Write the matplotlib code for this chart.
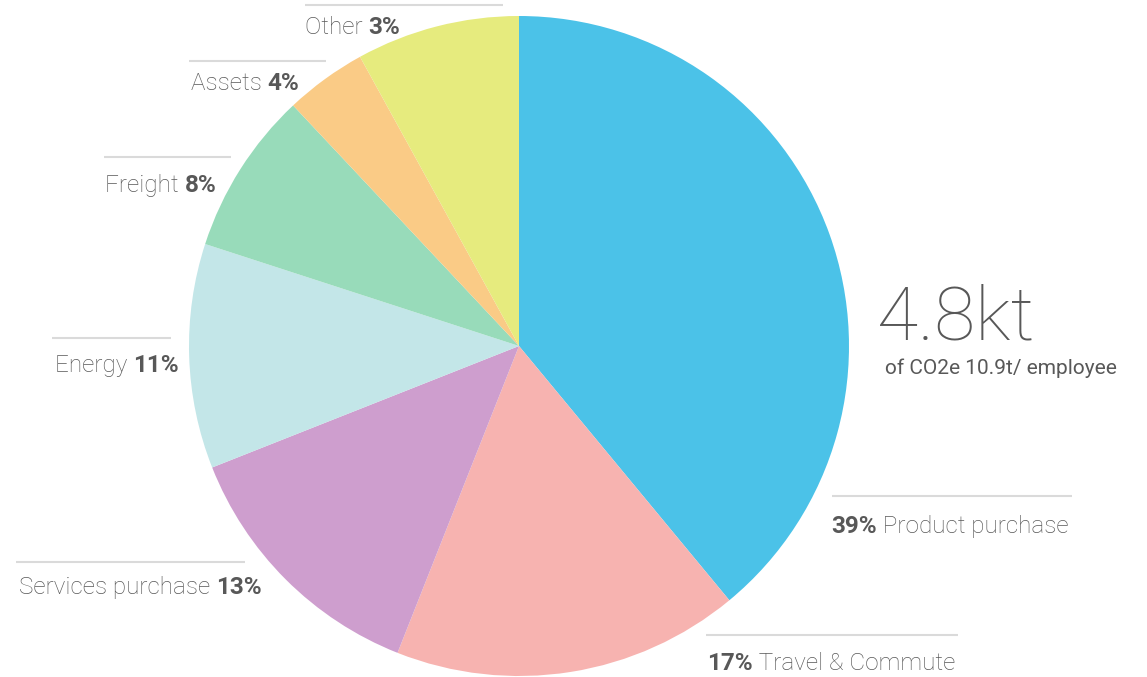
import matplotlib
matplotlib.use("Agg")
import matplotlib.pyplot as plt

# Emissions breakdown (clockwise from 12 o'clock)
categories = ['Product purchase', 'Travel & Commute', 'Services purchase',
              'Energy', 'Freight', 'Assets', 'Other']
slice_sizes = [39, 17, 13, 11, 8, 4, 8]      # wedge sizes as drawn
label_pct = [39, 17, 13, 11, 8, 4, 3]        # percentages printed in labels
colors = ['#4BC2E8', '#F7B3B0', '#CE9ECE', '#C3E6E8', '#98DBBA', '#FACB86', '#E6EB7E']
total_value = '4.8kt'
total_note = 'of CO2e 10.9t/ employee'

W, H = 1147, 677
TXT = '#585858'
LINE = '#dadada'

# label layout in pixel coords: (text x, baseline y, line x0, line x1, line y, pct first?)
label_layout = [
    (831, 533, 832, 1072, 496, True),
    (707, 670, 706, 958, 635, True),
    (19, 594, 16, 245, 562, False),
    (55, 372, 52, 171, 338, False),
    (105, 192, 104, 231, 157, False),
    (191, 90, 189, 326, 61, False),
    (305, 34, 305, 503, 5, False),
]

fig = plt.figure(figsize=(W / 100, H / 100), dpi=100)
ax = fig.add_axes([0, 0, 1, 1])

ax.pie(slice_sizes, colors=colors, startangle=90, counterclock=False,
       center=(519, H - 346), radius=330, frame=True,
       wedgeprops=dict(linewidth=0))

for (tx, ty, lx0, lx1, ly, pct_first), name, pct in zip(label_layout, categories, label_pct):
    ax.plot([lx0, lx1], [H - ly, H - ly], color=LINE, lw=1.5, solid_capstyle='butt')
    if pct_first:
        parts = [(f'{pct}%', 'bold'), (' ' + name, 'light')]
    else:
        parts = [(name + ' ', 'light'), (f'{pct}%', 'bold')]
    first = ax.text(tx, H - ty, parts[0][0], fontsize=17.5, fontweight=parts[0][1],
                    family='Roboto', color=TXT, ha='left', va='baseline')
    ax.annotate(parts[1][0], xy=(1, 0), xycoords=first, fontsize=17.5,
                fontweight=parts[1][1], family='Roboto', color=TXT,
                ha='left', va='bottom')

ax.text(877, H - 340, total_value, fontsize=54, fontweight='light', family='Roboto',
        color=TXT, ha='left', va='baseline')
ax.text(885, H - 374, total_note, fontsize=15, family='Roboto',
        color=TXT, ha='left', va='baseline')

ax.set_xlim(0, W)
ax.set_ylim(0, H)
ax.axis('off')

fig.savefig('out.png', dpi=100, facecolor='white')
